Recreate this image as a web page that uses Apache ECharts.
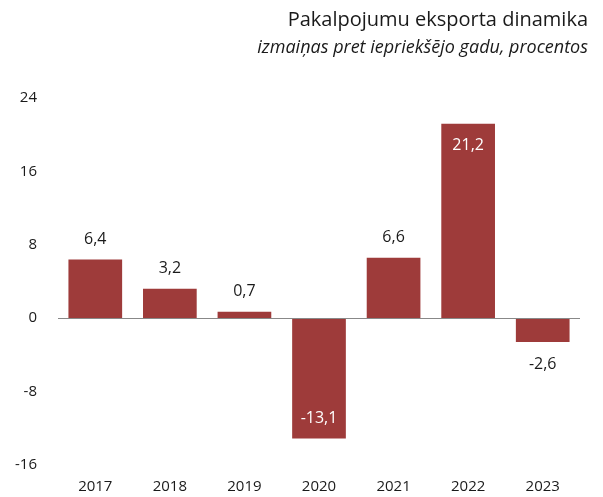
<!DOCTYPE html>
<html><head><meta charset="utf-8">
<script src="https://cdn.jsdelivr.net/npm/echarts@6/dist/echarts.min.js"></script>
<style>html,body{margin:0;padding:0;background:#fff}#c{width:603px;height:497px}</style>
</head><body><div id="c"></div>
<script>
const categories = ['2017','2018','2019','2020','2021','2022','2023'];
const values = [6.4, 3.2, 0.7, -13.1, 6.6, 21.2, -2.6];
const yTicks = [-16, -8, 0, 8, 16, 24];
const titleText = 'Pakalpojumu eksporta dinamika';
const subtitleText = 'izmaiņas pret iepriekšējo gadu, procentos';

const font = '"Open Sans", "DejaVu Sans", sans-serif';
const barColor = '#9e3b3a';
const fmt = v => String(v).replace('.', ',');

const data = values.map(v => {
  const item = { value: v };
  if (v > 15) item.label = { position: 'insideTop', color: '#fff', distance: 14 };
  else if (v < -8) item.label = { position: 'insideBottom', color: '#fff', distance: 12 };
  else if (v < 0) item.label = { position: 'bottom', color: '#1a1a1a', distance: 14 };
  return item;
});

const chart = echarts.init(document.getElementById('c'));
chart.setOption({
  animation: false,
  title: [
    { text: titleText, right: 10, top: 5, textStyle: { fontFamily: font, fontSize: 20, fontWeight: 'normal', color: '#1a1a1a' } },
    { text: subtitleText, right: 10, top: 34, textStyle: { fontFamily: font, fontSize: 18, fontStyle: 'italic', fontWeight: 'normal', color: '#1a1a1a' } }
  ],
  grid: { left: 58, right: 23, top: 98, bottom: 32, containLabel: false },
  xAxis: {
    type: 'category', data: categories,
    axisLine: { onZero: false, show: false },
    axisTick: { show: false },
    axisLabel: { fontFamily: font, fontSize: 15, color: '#1a1a1a', margin: 14 }
  },
  yAxis: {
    type: 'value', min: yTicks[0], max: yTicks[yTicks.length - 1], interval: 8,
    splitLine: { show: false }, axisLine: { show: false }, axisTick: { show: false },
    axisLabel: { fontFamily: font, fontSize: 15, color: '#1a1a1a', margin: 21 }
  },
  series: [{
    type: 'bar', data: data, barCategoryGap: '28%',
    itemStyle: { color: barColor },
    label: { show: true, position: 'top', distance: 12, fontFamily: font, fontSize: 16, color: '#1a1a1a', formatter: p => fmt(p.value) },
    markLine: {
      silent: true, symbol: 'none', label: { show: false },
      lineStyle: { color: '#888', width: 1, type: 'solid' },
      data: [{ yAxis: 0 }]
    }
  }]
});
</script></body></html>
